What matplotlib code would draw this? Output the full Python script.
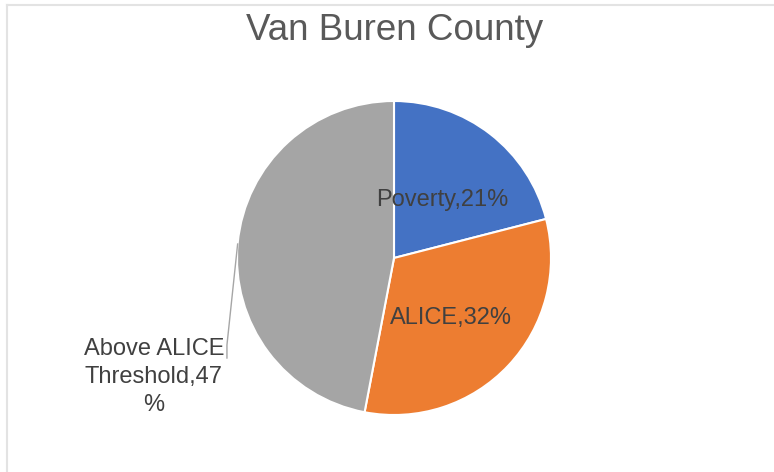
import matplotlib.pyplot as plt
from matplotlib.lines import Line2D

title = "Van Buren County"
categories = ["Poverty", "ALICE", "Above ALICE\nThreshold"]
shares = [21, 32, 47]
colors = ["#4472C4", "#ED7D31", "#A5A5A5"]

W, H = 774, 472
fig = plt.figure(figsize=(W / 100, H / 100), dpi=100)
plt.rcParams['font.family'] = ['Liberation Sans', 'DejaVu Sans']

# light chart border (top and left visible)
fig.add_artist(Line2D([7 / W, 7 / W], [0, 1 - 5 / H], color="#E3E3E3", lw=1.5))
fig.add_artist(Line2D([7 / W, 1], [1 - 5 / H, 1 - 5 / H], color="#E3E3E3", lw=1.5))

cx, cy, r = 394, 258, 157
ax = fig.add_axes([(cx - r) / W, (H - cy - r) / H, 2 * r / W, 2 * r / H])
ax.pie(shares, colors=colors, startangle=90, counterclock=False,
       wedgeprops=dict(edgecolor="white", linewidth=1.5))
ax.set_xlim(-1, 1)
ax.set_ylim(-1, 1)
ax.set_aspect("equal")
ax.axis("off")

fig.text(395 / W, 1 - 30 / H, title, ha="center", va="center",
         fontsize=26.5, color="#595959")

lab_color = "#404040"
ax.text(0.31, 0.37, f"{categories[0]},{shares[0]}%", ha="center", va="center",
        fontsize=17, color=lab_color)
ax.text(0.36, -0.38, f"{categories[1]},{shares[1]}%", ha="center", va="center",
        fontsize=17, color=lab_color)
ax.text(-1.53, -0.76, "Above ALICE\nThreshold,47\n%", ha="center", va="center",
        fontsize=17, color=lab_color, linespacing=1.35)

# leader line for the outside label
ax.plot([-0.996, -1.064, -1.064], [0.089, -0.554, -0.637],
        color="#A6A6A6", lw=1, clip_on=False)

fig.savefig("out.png", dpi=100)
